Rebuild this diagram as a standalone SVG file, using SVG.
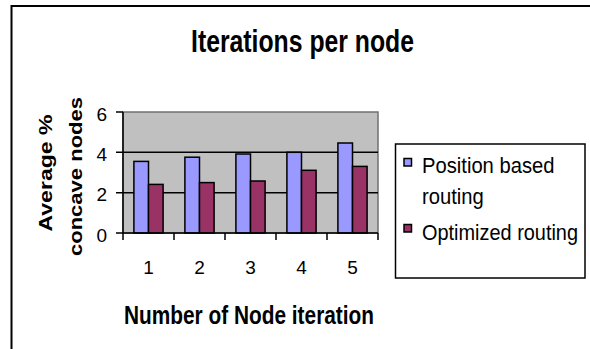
<svg xmlns="http://www.w3.org/2000/svg" width="590" height="349" viewBox="0 0 590 349">
  <style>
    text { font-family: "Liberation Sans", Arial, sans-serif; fill: #000; }
    .bold { font-weight: bold; }
    .tick-label { font-size: 19px; }
    .legend-label { font-size: 22.5px; }
    .pos { fill: #9999FF; stroke: #000; stroke-width: 1.5; }
    .opt { fill: #993366; stroke: #000; stroke-width: 1.5; }
    .grid { stroke: #000; stroke-width: 1.5; }
    .axis { stroke: #000; stroke-width: 1.5; fill: none; }
  </style>

  <rect width="590" height="349" fill="#fff"/>

  <!-- chart frame: only its top and left edges fall inside the canvas -->
  <path d="M11.5,349 V6 H590" fill="none" stroke="#000" stroke-width="2"/>

  <g id="chart-title">
    <text class="bold" x="191" y="51.5" font-size="30.5" textLength="223" lengthAdjust="spacingAndGlyphs">Iterations per node</text>
  </g>

  <g id="plot-area">
    <rect x="123" y="112" width="255" height="121" fill="#C0C0C0" stroke="#707070" stroke-width="1.5"/>
    <line class="grid" x1="123" y1="152.3" x2="378" y2="152.3"/>
    <line class="grid" x1="123" y1="192.7" x2="378" y2="192.7"/>
  </g>

  <g id="series-position-based">
    <rect class="pos" x="133.9" y="161.4" width="14.6" height="71.6"/>
    <rect class="pos" x="184.9" y="157.2" width="14.6" height="75.8"/>
    <rect class="pos" x="235.9" y="154.0" width="14.6" height="79.0"/>
    <rect class="pos" x="286.9" y="152.3" width="14.6" height="80.7"/>
    <rect class="pos" x="337.9" y="143.0" width="14.6" height="90.0"/>
  </g>

  <g id="series-optimized">
    <rect class="opt" x="148.5" y="184.4" width="14.6" height="48.6"/>
    <rect class="opt" x="199.5" y="182.6" width="14.6" height="50.4"/>
    <rect class="opt" x="250.5" y="181.0" width="14.6" height="52.0"/>
    <rect class="opt" x="301.5" y="170.3" width="14.6" height="62.7"/>
    <rect class="opt" x="352.5" y="166.4" width="14.6" height="66.6"/>
  </g>

  <g id="axes">
    <path class="axis" d="M123,112 V233 H378"/>
    <path class="axis" d="M116,112 H123 M116,152.3 H123 M116,192.7 H123 M116,233 H123"/>
    <path class="axis" d="M123,233 V240 M174,233 V240 M225,233 V240 M276,233 V240 M327,233 V240 M378,233 V240"/>
  </g>

  <g id="value-labels" text-anchor="end">
    <text class="tick-label" x="107" y="120.5">6</text>
    <text class="tick-label" x="107" y="160.8">4</text>
    <text class="tick-label" x="107" y="201.2">2</text>
    <text class="tick-label" x="107" y="241.5">0</text>
  </g>

  <g id="category-labels" text-anchor="middle">
    <text class="tick-label" x="148.5" y="274">1</text>
    <text class="tick-label" x="199.5" y="274">2</text>
    <text class="tick-label" x="250.5" y="274">3</text>
    <text class="tick-label" x="301.5" y="274">4</text>
    <text class="tick-label" x="352.5" y="274">5</text>
  </g>

  <g id="value-axis-title" text-anchor="middle">
    <text class="bold" transform="translate(51.5,173) rotate(-90)" font-size="18" textLength="117" lengthAdjust="spacingAndGlyphs">Average %</text>
    <text class="bold" transform="translate(81.5,176.5) rotate(-90)" font-size="18" textLength="159" lengthAdjust="spacingAndGlyphs">concave nodes</text>
  </g>

  <g id="category-axis-title">
    <text class="bold" x="124" y="324" font-size="25" textLength="250" lengthAdjust="spacingAndGlyphs">Number of Node iteration</text>
  </g>

  <g id="legend">
    <rect x="395.5" y="144" width="189.5" height="134" fill="#fff" stroke="#000" stroke-width="1.5"/>
    <rect class="pos" x="404" y="158.5" width="7.5" height="7.5"/>
    <text class="legend-label" x="422" y="173" textLength="132.5" lengthAdjust="spacingAndGlyphs">Position based</text>
    <text class="legend-label" x="422" y="204" textLength="61.8" lengthAdjust="spacingAndGlyphs">routing</text>
    <rect class="opt" x="404" y="224.5" width="7.5" height="7.5"/>
    <text class="legend-label" x="422" y="240" textLength="156" lengthAdjust="spacingAndGlyphs">Optimized routing</text>
  </g>
</svg>
